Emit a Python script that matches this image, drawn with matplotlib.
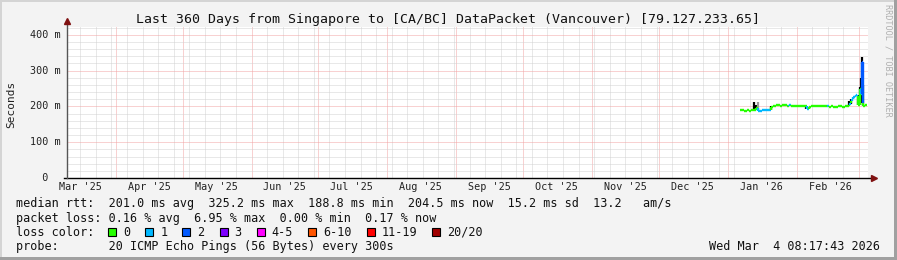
import datetime as dt
import matplotlib
matplotlib.use("Agg")
import matplotlib.pyplot as plt
import matplotlib.dates as mdates
import matplotlib.transforms as mtransforms
from matplotlib.collections import LineCollection
from matplotlib.patches import Rectangle

# ---- data ------------------------------------------------------------------
title = "Last 360 Days from Singapore to [CA/BC] DataPacket (Vancouver) [79.127.233.65]"

# daily medians (ms) from Jan 6 2026, then half-day samples from Feb 23
daily_start = dt.datetime(2026, 1, 6, 12)
daily_ms = [189, 189, 188, 189, 188, 189, 190, 196, 188, 188, 189, 189, 190,
            190, 198, 202, 203, 203, 202, 203, 203, 202, 203, 202, 202, 202,
            202, 202, 202, 201, 193, 199, 200, 201, 200, 200, 201, 200, 200,
            200, 199, 200, 199, 199, 200, 200, 199, 200, 200]
daily_loss = [0, 0, 0, 0, 0, 0, 0, 0, 1, 1, 1, 1, 1,
              1, 0, 0, 0, 0, 0, 0, 0, 0, 1, 0, 0, 0,
              0, 0, 0, 0, 1, 0, 0, 0, 0, 0, 0, 0, 0,
              1, 0, 0, 0, 0, 0, 0, 0, 0, 0]

tail_times = ["2026-02-23 12:00", "2026-02-24 00:00", "2026-02-24 12:00",
              "2026-02-25 00:00", "2026-02-25 12:00", "2026-02-26 00:00",
              "2026-02-26 12:00", "2026-02-27 00:00", "2026-02-27 12:00",
              "2026-02-28 00:00", "2026-02-28 12:00", "2026-03-01 00:00",
              "2026-03-01 12:00", "2026-03-02 00:00", "2026-03-02 08:00",
              "2026-03-02 16:00", "2026-03-03 00:00", "2026-03-03 12:00",
              "2026-03-04 00:00", "2026-03-04 12:00"]
tail_ms = [200, 201, 204, 210, 214, 220, 226, 230, 233, 228, 205, 203,
           250, 236, 325, 210, 202, 203, 204, 204.5]
tail_loss = [0, 0, 0, 1, 0, 1, 1, 1, 1, 1, 0, 0, 0, 1, 2, 2, 0, 0, 0, 0]

# smoke (min .. max of the pings) where it sticks out of the median line
smoke_times = ["2026-01-13 00:00", "2026-01-13 12:00", "2026-01-14 12:00",
               "2026-01-20 12:00", "2026-02-05 00:00", "2026-02-24 12:00",
               "2026-02-25 12:00", "2026-02-28 12:00", "2026-03-01 12:00",
               "2026-03-02 00:00", "2026-03-02 08:00", "2026-03-02 16:00"]
smoke_lo = [190, 189, 188, 190, 192, 204, 208, 204, 203, 210, 240, 205]
smoke_hi = [213, 205, 212, 202, 202, 216, 222, 232, 255, 280, 339, 260]
smoke_col = ["black", "black", "#9a9a9a", "black", "black", "black",
             "black", "black", "black", "black", "black", "black"]

month_labels = ["Mar '25", "Apr '25", "May '25", "Jun '25", "Jul '25",
                "Aug '25", "Sep '25", "Oct '25", "Nov '25", "Dec '25",
                "Jan '26", "Feb '26"]
ytick_vals = [0, 100, 200, 300, 400]
ytick_labels = ["  0", "100 m", "200 m", "300 m", "400 m"]

loss_labels = ["0", "1", "2", "3", "4-5", "6-10", "11-19", "20/20"]
loss_colors = ["#26ff00", "#00b8ff", "#0059ff", "#7e00ff", "#ff00ff",
               "#ff5500", "#ff0000", "#a00000"]

legend_lines = [
    "median rtt:  201.0 ms avg  325.2 ms max  188.8 ms min  204.5 ms now  15.2 ms sd  13.2   am/s",
    "packet loss: 0.16 % avg  6.95 % max  0.00 % min  0.17 % now",
    "loss color:",
    "probe:       20 ICMP Echo Pings (56 Bytes) every 300s",
]
stamp = "Wed Mar  4 08:17:43 2026"

t_end = dt.datetime(2026, 3, 4, 22, 0)
t_start = t_end - dt.timedelta(days=360)

# ---- figure -----------------------------------------------------------------
W, H = 897, 260
MONO = "DejaVu Sans Mono"
fig = plt.figure(figsize=(W / 100, H / 100), dpi=100, facecolor="#f3f3f3")

# plot area in pixels
L, R, T, B = 66.7, 867.7, 27, 178
ax = fig.add_axes([L / W, 1 - B / H, (R - L) / W, (B - T) / H])
ax.set_facecolor("white")
for s in ax.spines.values():
    s.set_visible(False)

times = [daily_start + dt.timedelta(days=i) for i in range(len(daily_ms))]
times += [dt.datetime.strptime(s, "%Y-%m-%d %H:%M") for s in tail_times]
ms = daily_ms + tail_ms
loss = daily_loss + tail_loss

ax.set_xlim(t_start, t_end)
ax.set_ylim(0, 422)

# grid, 1px dotted
dot = (0, (1, 1))
ax.xaxis.set_major_locator(mdates.MonthLocator())
ax.xaxis.set_minor_locator(mdates.WeekdayLocator(byweekday=mdates.SU))
ax.set_yticks(ytick_vals)
ax.set_yticks(range(0, 421, 20), minor=True)
ax.grid(which="minor", color="#d2d2d2", lw=0.72, ls=dot)
ax.grid(which="major", color="#f2a4a4", lw=0.72, ls=dot)
ax.set_axisbelow(True)
ax.tick_params(which="both", length=0, labelbottom=False, labelleft=False)

# smoke
sx = [dt.datetime.strptime(s, "%Y-%m-%d %H:%M") for s in smoke_times]
ax.vlines(sx, smoke_lo, smoke_hi, colors=smoke_col, lw=1.6, zorder=3)

# median line coloured by loss
tn = mdates.date2num(times)
segs, cols = [], []
for i in range(len(tn) - 1):
    segs.append([(tn[i], ms[i]), (tn[i + 1], ms[i])])
    cols.append(loss_colors[loss[i]])
    segs.append([(tn[i + 1], ms[i]), (tn[i + 1], ms[i + 1])])
    cols.append(loss_colors[loss[i + 1]])
ax.add_collection(LineCollection(segs, colors=cols, lw=1.7, zorder=4,
                                 capstyle="butt"))

# axes lines with arrows
w_ax, h_ax = R - L, B - T
ax.plot([-3 / w_ax, 1 + 3 / w_ax], [0, 0], transform=ax.transAxes,
        color="black", lw=1.0, clip_on=False, zorder=5)
ax.plot([0, 0], [0, 1 + 4 / h_ax], transform=ax.transAxes,
        color="#555555", lw=1.0, clip_on=False, zorder=5)
ax.plot(1 + 6 / w_ax, 0, marker=">", ms=4.5, color="#7f1010",
        transform=ax.transAxes, clip_on=False, zorder=6)
ax.plot(0, 1 + 6 / h_ax, marker="^", ms=4.5, color="#7f1010",
        transform=ax.transAxes, clip_on=False, zorder=6)

# month labels, centred half a month after each month start
ytxt = mtransforms.blended_transform_factory(ax.transData, fig.transFigure)
for k, lab in enumerate(month_labels):
    m0 = dt.datetime(2025 + (2 + k) // 12, (2 + k) % 12 + 1, 1)
    ax.text(m0 + dt.timedelta(days=15), 1 - 187.5 / H, lab, transform=ytxt,
            ha="center", va="center", family=MONO, fontsize=7.3,
            color="#222222")

# y tick labels
xtxt = mtransforms.blended_transform_factory(fig.transFigure, ax.transData)
for v, lab in zip(ytick_vals, ytick_labels):
    fig.text(30 / W, v, lab, transform=xtxt, ha="left", va="center",
             family=MONO, fontsize=7.3, color="#222222")

fig.text(448 / W, 1 - 19 / H, title, ha="center", va="center", family=MONO,
         fontsize=9.5, color="#111111")
fig.text(11 / W, 1 - 104 / H, "Seconds", rotation=90, ha="center",
         va="center", family=MONO, fontsize=8, color="#222222")
fig.text(888 / W, 1 - 60 / H, "RRDTOOL / TOBI OETIKER", rotation=270,
         ha="center", va="center", family=MONO, fontsize=6.1,
         color="#b0b0b0")

# legend block
rows_y = [204, 218.3, 232, 246.3]
for y, line in zip(rows_y, legend_lines):
    fig.text(16 / W, 1 - y / H, line, ha="left", va="center", family=MONO,
             fontsize=8.5, color="#111111")

bx = 108.0
for lab, col in zip(loss_labels, loss_colors):
    fig.patches.append(Rectangle((bx / W, 1 - 236 / H), 8 / W, 8 / H,
                                 transform=fig.transFigure, facecolor=col,
                                 edgecolor="black", lw=0.8))
    fig.text((bx + 15) / W, 1 - 232 / H, lab, ha="left", va="center",
             family=MONO, fontsize=8.5, color="#111111")
    bx += 37.2 + 7.1 * (len(lab) - 1)

fig.text(880 / W, 1 - 246.3 / H, stamp, ha="right", va="center",
         family=MONO, fontsize=8.5, color="#111111")

# 3d frame
fig.patches.append(Rectangle((0, 1 - 2 / H), 1, 2 / H, transform=fig.transFigure,
                             facecolor="#d4d4d4", lw=0))
fig.patches.append(Rectangle((0, 0), 2 / W, 1, transform=fig.transFigure,
                             facecolor="#d4d4d4", lw=0))
fig.patches.append(Rectangle((0, 0), 1, 3 / H, transform=fig.transFigure,
                             facecolor="#a0a0a0", lw=0))
fig.patches.append(Rectangle((1 - 3 / W, 0), 3 / W, 1, transform=fig.transFigure,
                             facecolor="#a0a0a0", lw=0))

fig.savefig("out.png", dpi=100, facecolor=fig.get_facecolor())
